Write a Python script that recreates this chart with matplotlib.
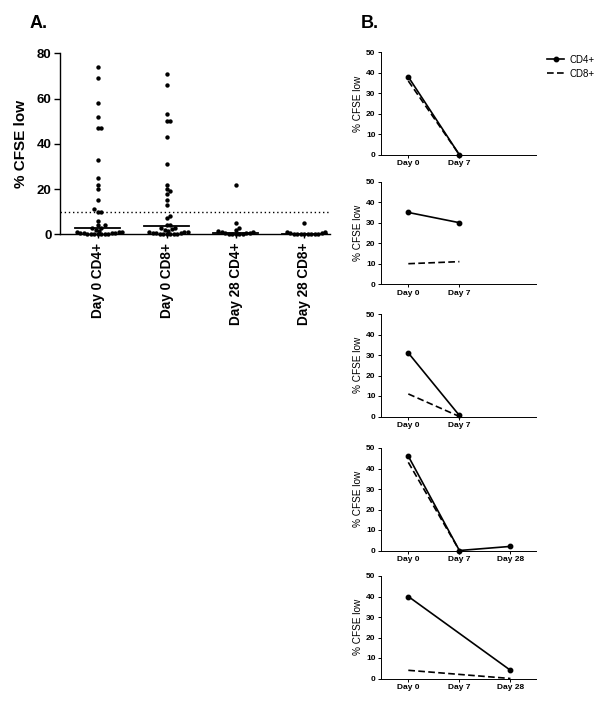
import numpy as np
import matplotlib
matplotlib.use("Agg")
import matplotlib.pyplot as plt

plt.rcParams["font.family"] = ["Liberation Sans", "DejaVu Sans"]

# Panel A: % CFSE low per group
groups = ["Day 0 CD4+", "Day 0 CD8+", "Day 28 CD4+", "Day 28 CD8+"]
day0_cd4 = [74, 69, 58, 52, 47, 47, 33, 25, 22, 20, 15, 11, 10, 10, 6, 4, 4, 3,
            3, 2, 1.5, 1.2, 1, 0.8, 0.6, 0.5, 0.5, 0.4, 0.3, 0.3, 0.2, 0.2, 0.1, 0.1, 0]
day0_cd8 = [71, 66, 53, 50, 50, 43, 31, 22, 20, 19, 18, 15, 13, 8, 7, 4, 4, 3,
            3, 2.5, 2, 1.5, 1.2, 1, 0.8, 0.6, 0.5, 0.4, 0.3, 0.3, 0.2, 0.1, 0.1, 0]
day28_cd4 = [22, 5, 3, 2, 1.5, 1, 1, 0.5, 0.5, 0.4, 0.3, 0.3, 0.2, 0.2, 0.1]
day28_cd8 = [5, 1, 0.8, 0.6, 0.5, 0.3, 0.3, 0.2, 0.2, 0.1, 0.1, 0, 0]
cutoff = 10

# Panel B: individual patients
days = ["Day 0", "Day 7", "Day 28"]
b_cd4 = [
    [38, 0, np.nan],
    [35, 30, np.nan],
    [31, 0.5, np.nan],
    [46, 0, 2],
    [40, np.nan, 4],
]
b_cd8 = [
    [36, 0, np.nan],
    [10, 11, np.nan],
    [11, 0, np.nan],
    [43, 0, np.nan],
    [4, np.nan, 0],
]
b_nticks = [2, 2, 2, 3, 3]

W, H = 600, 713
fig = plt.figure(figsize=(W / 100, H / 100), dpi=100)


def swarm_offsets(vals, xpx, ypx, d=3.5, step=1.75):
    # simple beeswarm: place points (pixel space) so dots don't overlap
    order = np.argsort(vals)
    placed = []
    offs = np.zeros(len(vals))
    for i in order:
        y = vals[i] * ypx
        k = 0
        while True:
            off = ((k + 1) // 2) * step * (1 if k % 2 else -1)
            if all((off - px) ** 2 + (y - py) ** 2 >= d * d for px, py in placed):
                break
            k += 1
        placed.append((off, y))
        offs[i] = off / xpx
    return offs


# ---- Panel A ----
axA = fig.add_axes([0.1, 0.6714, 0.45, 0.2539])
xlim = (-0.546, 3.37)
ylim = (0, 80)
axA.set_xlim(*xlim)
axA.set_ylim(*ylim)
xpx = 0.45 * W / (xlim[1] - xlim[0])
ypx = 0.2539 * H / (ylim[1] - ylim[0])

for i, vals in enumerate([day0_cd4, day0_cd8, day28_cd4, day28_cd8]):
    v = np.array(vals, dtype=float)
    xs = i + swarm_offsets(v, xpx, ypx)
    axA.scatter(xs, v, s=10, color="black", zorder=3, linewidths=0, clip_on=False)
    med = np.median(v)
    axA.plot([i - 0.33, i + 0.33], [med, med], color="black", lw=1.3, zorder=2)

axA.axhline(cutoff, color="black", lw=1.0, ls=(0, (1, 2)))
axA.set_xticks(range(len(groups)))
axA.set_xticklabels(groups, rotation=90, fontsize=9.8, fontweight="bold")
axA.set_yticks([0, 20, 40, 60, 80])
axA.set_yticklabels(["0", "20", "40", "60", "80"], fontsize=9.5, fontweight="bold")
axA.set_ylabel("% CFSE low", fontsize=11, fontweight="bold", labelpad=6)
for s in ["top", "right"]:
    axA.spines[s].set_visible(False)
for s in ["left", "bottom"]:
    axA.spines[s].set_linewidth(1.0)
axA.tick_params(axis="y", length=4, width=1, pad=2)
axA.tick_params(axis="x", length=3, width=1, pad=3)

fig.text(30 / W, 1 - 28 / H, "A.", fontsize=13, fontweight="bold")
fig.text(361 / W, 1 - 28 / H, "B.", fontsize=13, fontweight="bold")

# ---- Panel B ----
tops = [52.3, 181.7, 314, 448, 576]
hpx = 102.5
xday = np.arange(len(days))
axes_b = []
for k, top in enumerate(tops):
    ax = fig.add_axes([381 / W, 1 - (top + hpx) / H, 155 / W, hpx / H])
    y4 = np.array(b_cd4[k], dtype=float)
    y8 = np.array(b_cd8[k], dtype=float)
    m4 = ~np.isnan(y4)
    m8 = ~np.isnan(y8)
    ax.plot(xday[m8], y8[m8], color="black", lw=1.2, ls=(0, (4, 2)),
            label="CD8+", zorder=2, clip_on=False)
    ax.plot(xday[m4], y4[m4], color="black", lw=1.2, marker="o", ms=3.2,
            label="CD4+", zorder=3, clip_on=False)
    ax.set_xlim(-0.535, 2.5)
    ax.set_ylim(0, 50)
    ax.set_yticks([0, 10, 20, 30, 40, 50])
    ax.set_yticklabels(["0", "10", "20", "30", "40", "50"], fontsize=6,
                       fontweight="bold")
    n = b_nticks[k]
    ax.set_xticks(xday[:n])
    ax.set_xticklabels(days[:n], fontsize=6, fontweight="bold")
    ax.set_ylabel("% CFSE low", fontsize=7.2, labelpad=2)
    for s in ["top", "right"]:
        ax.spines[s].set_visible(False)
    for s in ["left", "bottom"]:
        ax.spines[s].set_linewidth(0.7)
    ax.tick_params(length=2.5, width=0.7, pad=1.5)
    axes_b.append(ax)

h, l = axes_b[0].get_legend_handles_labels()
fig.legend(h[::-1], l[::-1], loc="upper left",
           bbox_to_anchor=(543 / W, 1 - 51 / H), frameon=False, fontsize=7,
           handlelength=1.8, handletextpad=0.5, labelspacing=0.4,
           borderaxespad=0)

fig.savefig("out.png", dpi=100)
